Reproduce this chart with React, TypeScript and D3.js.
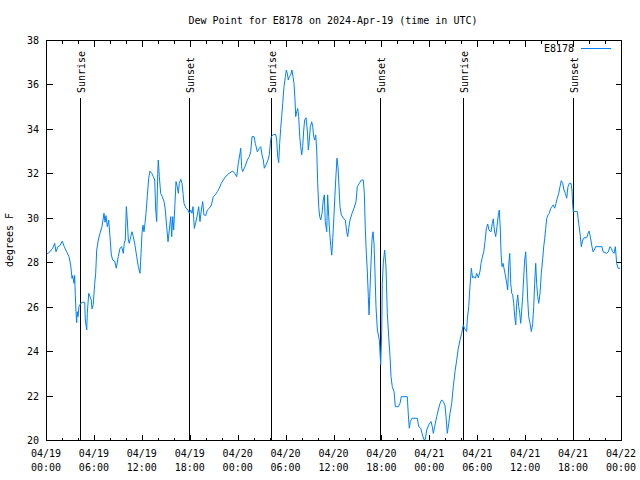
import React from "react";
import * as d3 from "d3";

// hours since 2024-04-19 00:00 UTC, dew point (°F)
const day1: [number, number][] = [
  [0.04,28.4],[0.29,28.4],[0.84,28.63],[1.09,28.85],[1.25,28.47],[1.50,28.7],[1.75,28.75],[2.04,28.95],[2.29,28.7],[2.59,28.47],[2.88,28.25],[3.09,27.87],[3.26,27.27],[3.34,27.4],[3.51,27.05],[3.59,27.4],[3.67,26.5],[3.76,25.77],[3.84,25.28],[3.92,25.77],[4.01,25.55],[4.13,26.0],[4.35,26.15],[4.60,26.2],[4.85,26.2],[4.92,25.4],[5.10,24.95],[5.17,25.7],[5.35,26.6],[5.51,26.45],[5.67,26.3],[5.76,25.9],[5.92,26.1],[6.10,27.05],[6.22,27.5],[6.35,28.55],[6.55,29.0],[6.76,29.3],[7.01,29.6],[7.26,30.2],[7.39,29.8],[7.51,30.1],[7.68,29.6],[7.85,29.9],[8.01,29.15],[8.18,28.33],[8.35,28.1],[8.60,28.05],[8.80,27.73],[9.05,28.25],[9.27,28.63],[9.48,28.7],[9.68,28.4],[9.80,28.85],[9.93,29.0],[10.06,30.5],[10.18,29.9],[10.31,29.0],[10.43,28.85],[10.61,29.15],[10.77,29.37],[10.93,29.15],[11.14,28.77],[11.36,28.25],[11.56,27.8],[11.77,27.5],[11.90,28.4],[12.02,29.3],[12.15,29.67],[12.27,29.37],[12.40,29.75],[12.52,30.2],[12.68,30.95],[12.86,31.78],[13.02,32.1],[13.24,32.0],[13.44,31.85],[13.61,31.7],[13.74,30.35],[13.86,29.83],[13.99,32.0],[14.06,32.6],[14.19,31.85],[14.36,31.1],[14.56,30.95],[14.78,30.73],[14.94,30.35],[15.11,29.6],[15.28,28.92],[15.44,29.45],[15.62,30.05],[15.74,29.15],[15.87,30.05],[15.99,29.45],[16.15,30.65],[16.28,31.63],[16.44,31.4],[16.57,31.1],[16.69,31.55],[16.87,31.73],[17.03,31.55],[17.16,31.1],[17.28,30.65],[17.53,30.43],[17.78,30.35],[17.94,30.2],[18.12,30.35],[18.28,30.2],[18.41,30.5],[18.57,29.52],[18.75,29.8],[18.91,30.05],[19.12,30.5],[19.28,29.83],[19.45,30.35],[19.62,30.73],[19.78,30.13],[20.00,30.1],[20.20,30.35],[20.45,30.43],[20.70,30.57],[20.95,30.95],[21.20,31.03],[21.45,31.17],[21.70,31.33],[21.95,31.55],[22.20,31.7],[22.45,31.83],[22.70,31.93],[23.04,32.03],[23.38,32.1],[23.63,32.0],[23.88,31.85]
];
const day2: [number, number][] = [
  [24.08,32.45],[24.29,32.9],[24.38,33.13],[24.51,32.23],[24.63,32.08],[24.92,32.3],[25.21,32.6],[25.46,32.75],[25.63,32.97],[25.80,33.65],[26.05,33.65],[26.21,33.35],[26.46,32.97],[26.71,33.13],[26.89,33.2],[27.05,32.83],[27.21,32.6],[27.34,32.23],[27.55,32.38],[27.80,32.6],[27.96,32.83],[28.09,33.35],[28.21,33.65],[28.46,33.75],[28.76,33.75],[28.89,33.5],[29.01,32.75],[29.14,32.48],[29.26,33.35],[29.39,34.03],[29.51,34.55],[29.64,35.15],[29.80,35.9],[29.97,36.35],[30.09,36.65],[30.22,36.5],[30.34,36.2],[30.47,36.35],[30.64,36.43],[30.80,36.65],[30.93,36.35],[31.05,36.05],[31.18,35.3],[31.27,34.55],[31.39,34.77],[31.52,34.92],[31.64,34.55],[31.77,33.65],[31.89,33.2],[32.02,32.83],[32.14,33.2],[32.27,33.95],[32.39,34.4],[32.56,34.5],[32.72,33.95],[32.85,33.05],[32.97,33.5],[33.10,34.1],[33.27,34.32],[33.40,34.1],[33.52,33.65],[33.65,33.5],[33.77,33.73],[33.90,33.05],[34.02,31.55],[34.15,30.5],[34.27,30.05],[34.40,29.9],[34.56,30.2],[34.72,30.8],[34.85,31.03],[34.97,29.83],[35.15,29.37],[35.27,31.03],[35.40,30.05],[35.53,29.3],[35.65,28.77],[35.78,28.32],[35.90,29.0],[36.03,29.9],[36.15,30.8],[36.31,31.93],[36.44,32.68],[36.56,32.3],[36.69,31.4],[36.81,30.5],[36.98,30.13],[37.23,29.98],[37.48,29.9],[37.65,29.37],[37.78,29.15],[37.90,29.52],[38.07,29.9],[38.32,30.2],[38.57,30.43],[38.82,30.73],[38.98,31.4],[39.23,31.55],[39.48,31.7],[39.73,31.7],[39.86,31.1],[39.98,29.52],[40.11,28.4],[40.23,27.65],[40.36,26.45],[40.45,25.63],[40.66,27.65],[40.82,29.0],[40.95,29.37],[41.07,28.85],[41.20,27.5],[41.32,26.0],[41.49,24.95],[41.74,24.5],[41.91,23.38],[42.04,24.95],[42.11,27.05],[42.24,28.0],[42.41,28.55],[42.57,27.8],[42.74,25.7],[42.91,24.65],[43.08,23.75],[43.20,22.85],[43.36,22.4],[43.58,22.18],[43.74,21.5],[44.12,21.5],[44.33,21.65],[44.49,21.95],[45.24,21.95],[45.37,21.13],[45.49,20.53],[45.62,20.83],[45.83,20.98],[46.49,20.98],[46.67,20.6],[46.92,20.53],[47.08,20.3],[47.30,20.03],[47.50,20.03],[47.67,20.45],[47.92,20.68]
];
const day3: [number, number][] = [
  [48.21,20.83],[48.37,20.6],[48.50,20.3],[48.67,20.6],[48.92,21.05],[49.12,21.35],[49.34,21.65],[49.55,21.8],[49.75,21.73],[49.96,21.55],[50.09,21.05],[50.25,20.3],[50.43,20.75],[50.59,21.2],[50.80,21.65],[51.00,22.4],[51.21,23.07],[51.43,23.6],[51.63,24.13],[51.84,24.5],[52.05,24.8],[52.25,25.18],[52.43,25.0],[52.68,24.88],[52.75,25.4],[52.93,26.0],[53.09,26.9],[53.26,27.73],[53.41,27.3],[53.60,27.35],[53.76,27.28],[53.93,27.5],[54.13,27.3],[54.35,27.6],[54.47,27.95],[54.63,28.22],[54.81,28.47],[54.97,28.92],[55.14,29.52],[55.31,29.72],[55.47,29.45],[55.72,29.37],[55.89,29.75],[56.01,29.95],[56.14,29.45],[56.31,29.15],[56.47,29.6],[56.64,30.13],[56.76,30.35],[56.89,29.45],[56.98,28.4],[57.10,27.8],[57.23,27.95],[57.35,27.73],[57.51,27.43],[57.69,27.05],[57.81,26.75],[57.94,27.88],[58.07,28.4],[58.19,27.05],[58.32,26.6],[58.44,26.53],[58.57,26.15],[58.69,25.55],[58.82,25.18],[58.94,26.15],[59.07,26.53],[59.19,26.0],[59.32,25.7],[59.44,25.25],[59.57,25.85],[59.69,26.45],[59.82,27.35],[59.94,28.1],[60.07,28.47],[60.19,27.5],[60.32,26.3],[60.44,25.55],[60.61,25.25],[60.77,24.88],[60.94,25.25],[61.07,26.0],[61.19,27.05],[61.32,27.95],[61.44,27.05],[61.57,26.45],[61.70,26.15],[61.86,26.6],[62.02,27.5],[62.20,28.17],[62.32,28.7],[62.45,29.07],[62.57,29.52],[62.70,29.97],[62.86,30.13],[63.02,30.2],[63.20,30.43],[63.36,30.5],[63.52,30.58],[63.70,30.43],[63.86,30.65],[64.02,30.88],[64.20,31.1],[64.36,31.4],[64.52,31.67],[64.70,31.55],[64.86,31.25],[65.03,31.1],[65.20,30.88],[65.36,31.4],[65.53,31.55],[65.74,31.55],[65.86,31.25],[65.95,30.58],[66.03,30.28],[66.53,30.28],[66.70,29.75],[66.87,29.3],[67.03,28.7],[67.21,29.0],[67.37,29.1],[67.71,29.1],[67.87,29.3],[68.00,29.4],[68.16,29.15],[68.33,28.77],[68.50,28.47],[68.66,28.55],[68.83,28.7],[69.62,28.7],[69.75,28.47],[70.21,28.4],[70.41,28.47],[70.62,28.7],[70.79,28.62],[70.96,28.47],[71.13,28.4],[71.29,28.7],[71.46,27.95],[71.63,27.73],[71.88,27.73]
];

const sunriseHours = [4.3, 28.21, 52.22];
const sunsetHours = [17.95, 41.88, 65.95];

const yTicks = [20, 22, 24, 26, 28, 30, 32, 34, 36, 38];
const xTickHours = [0, 6, 12, 18, 24, 30, 36, 42, 48, 54, 60, 66, 72];
const xTickDates = ["04/19", "04/19", "04/19", "04/19", "04/20", "04/20", "04/20", "04/20", "04/21", "04/21", "04/21", "04/21", "04/22"];
const xTickTimes = ["00:00", "06:00", "12:00", "18:00", "00:00", "06:00", "12:00", "18:00", "00:00", "06:00", "12:00", "18:00", "00:00"];
const xMinorHours = [2, 4, 8, 10, 14, 16, 20, 22, 26, 28, 32, 34, 38, 40, 44, 46, 50, 52, 56, 58, 62, 64, 68, 70];

const title = "Dew Point for E8178 on 2024-Apr-19 (time in UTC)";
const seriesName = "E8178";
const yLabel = "degrees F";

const FONT = "'DejaVu Sans Mono', monospace";
const LINE_COLOR = "#0080ff";

export default function App() {
  const left = 46, right = 621, top = 40, bottom = 440;
  const x = d3.scaleLinear().domain([0, 72]).range([left, right]);
  const y = d3.scaleLinear().domain([20, 38]).range([bottom, top]);
  const data = [...day1, ...day2, ...day3];
  const line = d3.line<[number, number]>().x((d) => x(d[0])).y((d) => y(d[1]));

  const px = (v: number) => Math.round(v) + 0.5;

  return (
    <svg width={640} height={480} style={{ position: "absolute", left: 0, top: 0, background: "#fff" }}
      fontFamily={FONT} fontSize={10}>
      <rect x={0} y={0} width={640} height={480} fill="#fff" />
      <text x={333} y={24} textAnchor="middle" fill="#000">{title}</text>

      <g shapeRendering="crispEdges" stroke="#000">
        {yTicks.map((t) => (
          <g key={"y" + t}>
            <line x1={px(x(0))} x2={px(x(0)) + 6} y1={px(y(t))} y2={px(y(t))} />
            <line x1={px(x(72))} x2={px(x(72)) - 6} y1={px(y(t))} y2={px(y(t))} />
          </g>
        ))}
        {xTickHours.map((h) => (
          <g key={"x" + h}>
            <line x1={px(x(h))} x2={px(x(h))} y1={px(y(20))} y2={px(y(20)) - 6} />
            <line x1={px(x(h))} x2={px(x(h))} y1={px(y(38))} y2={px(y(38)) + 6} />
          </g>
        ))}
        {xMinorHours.map((h) => (
          <g key={"m" + h}>
            <line x1={px(x(h))} x2={px(x(h))} y1={px(y(20))} y2={px(y(20)) - 3} />
            <line x1={px(x(h))} x2={px(x(h))} y1={px(y(38))} y2={px(y(38)) + 3} />
          </g>
        ))}
      </g>

      {yTicks.map((t) => (
        <text key={"yl" + t} x={39} y={y(t) + 4} textAnchor="end" fill="#000">{t}</text>
      ))}
      {xTickHours.map((h, i) => (
        <g key={"xl" + h}>
          <text x={x(h)} y={457} textAnchor="middle" fill="#000">{xTickDates[i]}</text>
          <text x={x(h)} y={471} textAnchor="middle" fill="#000">{xTickTimes[i]}</text>
        </g>
      ))}

      <text transform={`translate(13,240) rotate(-90)`} textAnchor="middle" fill="#000">{yLabel}</text>

      {sunriseHours.map((h) => (
        <g key={"sr" + h}>
          <line x1={px(x(h))} x2={px(x(h))} y1={98} y2={bottom} stroke="#000" shapeRendering="crispEdges" />
          <text transform={`translate(${px(x(h)) + 4.5},93) rotate(-90)`} fill="#000">Sunrise</text>
        </g>
      ))}
      {sunsetHours.map((h) => (
        <g key={"ss" + h}>
          <line x1={px(x(h))} x2={px(x(h))} y1={98} y2={bottom} stroke="#000" shapeRendering="crispEdges" />
          <text transform={`translate(${px(x(h)) + 4.5},93) rotate(-90)`} fill="#000">Sunset</text>
        </g>
      ))}

      <path d={line(data) ?? ""} fill="none" stroke={LINE_COLOR} strokeWidth={1} />

      <text x={574} y={52} textAnchor="end" fill="#000">{seriesName}</text>
      <line x1={581} x2={611} y1={48.5} y2={48.5} stroke={LINE_COLOR} shapeRendering="crispEdges" />

      <rect x={px(x(0))} y={px(y(38))} width={Math.round(x(72)) - Math.round(x(0))} height={Math.round(y(20)) - Math.round(y(38))}
        fill="none" stroke="#000" shapeRendering="crispEdges" />
    </svg>
  );
}
